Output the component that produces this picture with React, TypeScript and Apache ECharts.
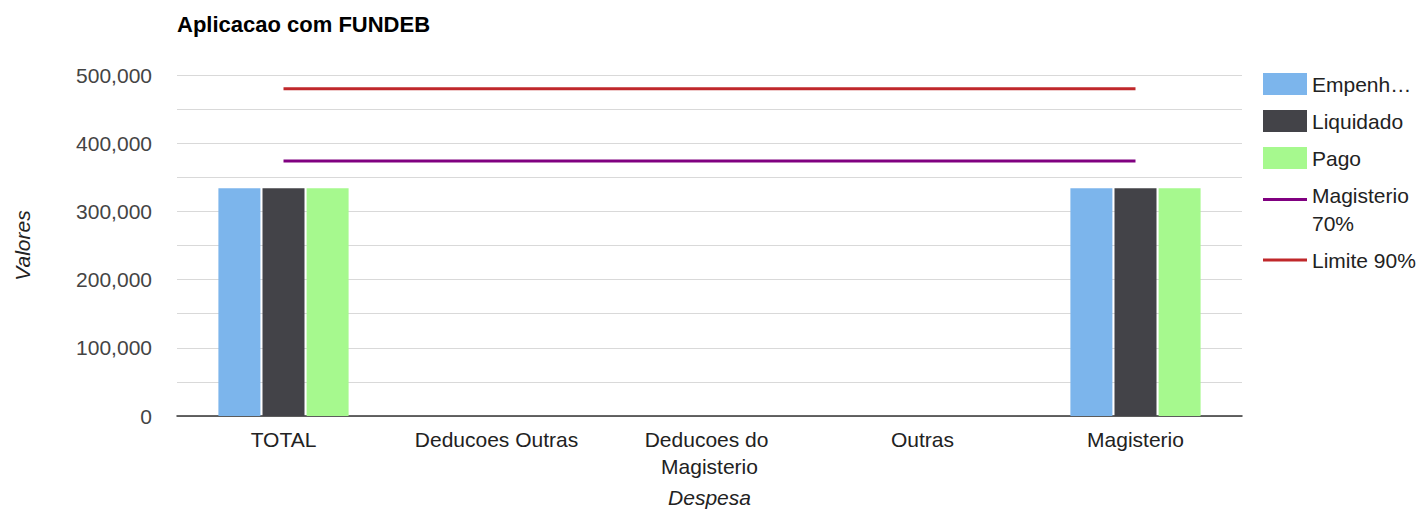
import React, { useEffect, useRef } from "react";
import * as echarts from "echarts";

const categories = ["TOTAL", "Deducoes Outras", "Deducoes do Magisterio", "Outras", "Magisterio"];
const empenhado = [334000, 0, 0, 0, 334000];
const liquidado = [334000, 0, 0, 0, 334000];
const pago = [334000, 0, 0, 0, 334000];
const magisterio70 = [374000, 374000, 374000, 374000, 374000];
const limite90 = [480000, 480000, 480000, 480000, 480000];
const legendNames = ["Empenhado", "Liquidado", "Pago", "Magisterio 70%", "Limite 90%"];
const legendLabels: Record<string, string> = {
  Empenhado: "Empenh…",
  "Magisterio 70%": "Magisterio\n70%",
};

const FONT = "'Liberation Sans', Arial, sans-serif";
const LINE_ICON = "path://M0,0L44,0L44,3L0,3Z";
const LINE_ICON_TOP = "path://M0,0L44,0L44,3L0,3Z M0,22L44,22L44,22L0,22Z";

export default function App() {
  const ref = useRef<HTMLDivElement>(null);
  useEffect(() => {
    if (!ref.current) return;
    document.body.style.margin = "0";
    document.body.style.overflow = "hidden";
    const chart = echarts.init(ref.current, undefined, { renderer: "svg" });
    chart.setOption({
      animation: false,
      backgroundColor: "#ffffff",
      textStyle: { fontFamily: FONT },
      title: {
        text: "Aplicacao com FUNDEB",
        left: 172,
        top: 8,
        textStyle: { fontFamily: FONT, fontSize: 22, fontWeight: "bold", color: "#000" },
      },
      legend: {
        orient: "vertical",
        left: 1258,
        top: 65,
        itemWidth: 44,
        itemHeight: 22,
        itemGap: 9,
        data: legendNames.map((n, i) =>
          i === 3 ? { name: n, icon: LINE_ICON_TOP } : i === 4 ? { name: n, icon: LINE_ICON } : { name: n, icon: "rect" }
        ),
        formatter: (n: string) => legendLabels[n] ?? n,
        textStyle: { fontFamily: FONT, fontSize: 21, color: "#222", lineHeight: 28 },
        selectedMode: false,
      },
      grid: { left: 177, right: 182, top: 75, bottom: 95, outerBoundsMode: "none", containLabel: false },
      xAxis: {
        type: "category",
        data: categories,
        name: "Despesa",
        nameLocation: "middle",
        nameGap: 71,
        nameTextStyle: { fontFamily: FONT, fontSize: 21, fontStyle: "italic", color: "#222" },
        axisLine: { lineStyle: { color: "#333", width: 1.5 } },
        axisTick: { show: false },
        axisLabel: {
          fontFamily: FONT,
          fontSize: 21,
          color: "#222",
          width: 200,
          overflow: "break",
          lineHeight: 27,
          margin: 10,
          interval: 0,
        },
      },
      yAxis: {
        type: "value",
        min: 0,
        max: 500000,
        interval: 50000,
        name: "Valores",
        nameLocation: "middle",
        nameGap: 144,
        nameRotate: 90,
        nameTextStyle: { fontFamily: FONT, fontSize: 21, fontStyle: "italic", color: "#222" },
        axisLine: { show: false },
        axisTick: { show: false },
        splitLine: { lineStyle: { color: "#d9d9d9", width: 1.2 } },
        axisLabel: {
          fontFamily: FONT,
          fontSize: 21,
          color: "#444",
          margin: 25,
          formatter: (v: number) => (v % 100000 === 0 ? v.toLocaleString("en-US") : ""),
        },
      },
      series: [
        { name: "Empenhado", type: "bar", data: empenhado, barWidth: 42, barGap: "5%", itemStyle: { color: "#7cb5ec" } },
        { name: "Liquidado", type: "bar", data: liquidado, barWidth: 42, barGap: "5%", itemStyle: { color: "#434348" } },
        { name: "Pago", type: "bar", data: pago, barWidth: 42, barGap: "5%", itemStyle: { color: "#a6f98e" } },
        {
          name: "Magisterio 70%",
          type: "line",
          data: magisterio70,
          symbol: "none",
          lineStyle: { color: "#800080", width: 3 },
          itemStyle: { color: "#800080" },
        },
        {
          name: "Limite 90%",
          type: "line",
          data: limite90,
          symbol: "none",
          lineStyle: { color: "#c0282b", width: 3 },
          itemStyle: { color: "#c0282b" },
        },
      ],
    });
    return () => chart.dispose();
  }, []);
  return <div ref={ref} style={{ width: 1424, height: 511 }} />;
}
